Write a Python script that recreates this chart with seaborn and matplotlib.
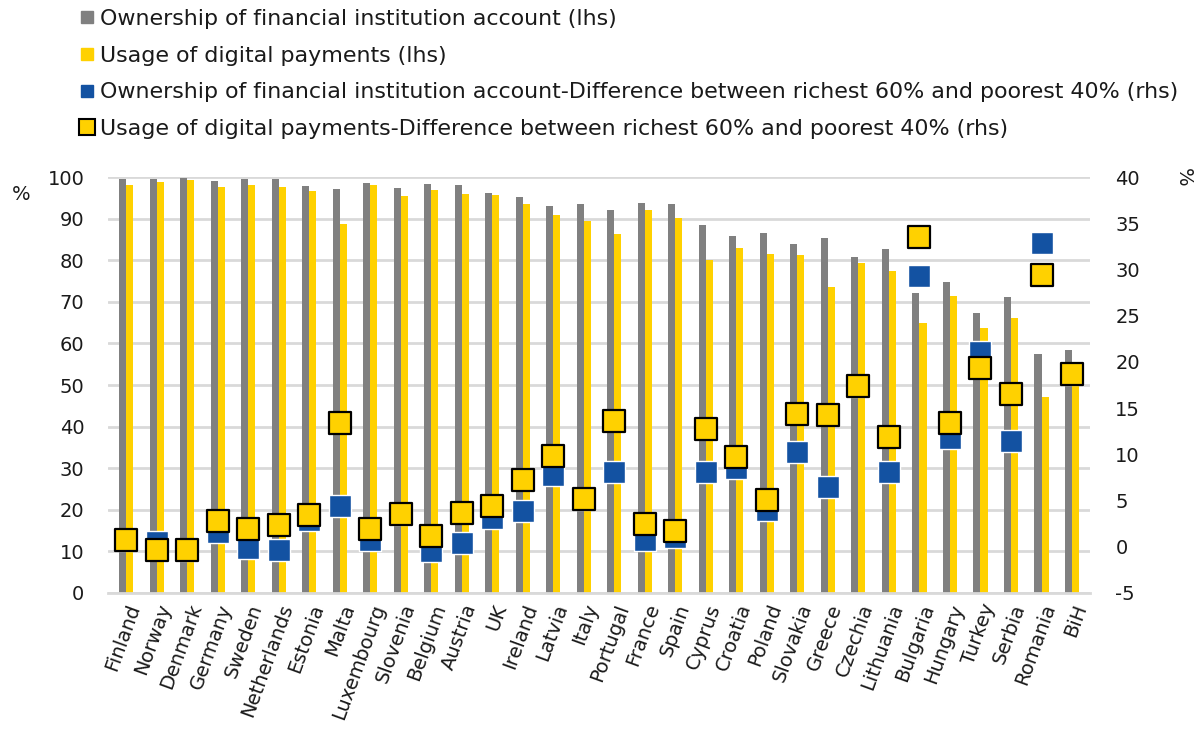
import numpy as np
import pandas as pd
import matplotlib
matplotlib.use("Agg")
import matplotlib.pyplot as plt
from matplotlib.lines import Line2D
import seaborn as sns

countries = ["Finland", "Norway", "Denmark", "Germany", "Sweden", "Netherlands", "Estonia",
             "Malta", "Luxembourg", "Slovenia", "Belgium", "Austria", "UK", "Ireland", "Latvia",
             "Italy", "Portugal", "France", "Spain", "Cyprus", "Croatia", "Poland", "Slovakia",
             "Greece", "Czechia", "Lithuania", "Bulgaria", "Hungary", "Turkey", "Serbia",
             "Romania", "BiH"]

account_own = [99.6, 99.5, 99.8, 99.0, 99.6, 99.5, 97.8, 97.2, 98.6, 97.4, 98.4, 98.0,
               96.2, 95.2, 93.0, 93.6, 92.1, 93.7, 93.6, 88.5, 85.9, 86.5, 84.0, 85.3,
               80.8, 82.6, 72.0, 74.7, 67.4, 71.1, 57.4, 58.5]
digital_pay = [98.2, 98.9, 99.2, 97.6, 98.2, 97.6, 96.6, 88.6, 98.2, 95.5, 96.9, 96.0,
               95.6, 93.4, 90.8, 89.4, 86.2, 92.0, 90.2, 80.0, 82.9, 81.6, 81.3, 73.5,
               79.4, 77.3, 64.8, 71.3, 63.6, 66.0, 47.0, 52.0]
account_gap = [0.7, 0.5, -0.3, 1.6, -0.1, -0.3, 2.9, 4.4, 0.7, 3.5, -0.5, 0.4,
               3.1, 3.9, 7.8, 5.2, 8.1, 0.7, 1.1, 8.1, 8.5, 4.0, 10.2, 6.5,
               17.4, 8.1, 29.3, 11.8, 21.1, 11.4, 32.9, 18.7]
digital_gap = [0.7, -0.4, -0.3, 2.8, 1.9, 2.4, 3.4, 13.4, 1.9, 3.5, 1.2, 3.7,
               4.4, 7.2, 9.8, 5.2, 13.6, 2.5, 1.7, 12.7, 9.7, 5.1, 14.4, 14.3,
               17.4, 11.9, 33.5, 13.4, 19.3, 16.5, 29.4, 18.7]

lab_own = "Ownership of financial institution account (lhs)"
lab_dig = "Usage of digital payments (lhs)"
lab_own_gap = "Ownership of financial institution account-Difference between richest 60% and poorest 40% (rhs)"
lab_dig_gap = "Usage of digital payments-Difference between richest 60% and poorest 40% (rhs)"

GREY = "#808080"
YELLOW = "#FFD100"
BLUE = "#1352A2"
GRID = "#D9D9D9"
TXT = "#1a1a1a"

sns.set_theme(style="white")
plt.rcParams["font.family"] = ["DejaVu Sans"]
plt.rcParams["axes.unicode_minus"] = False

bars = pd.DataFrame({
    "country": countries * 2,
    "series": [lab_own] * len(countries) + [lab_dig] * len(countries),
    "value": account_own + digital_pay,
})

fig = plt.figure(figsize=(11.95, 7.33), dpi=100)
ax = fig.add_axes([0.0904, 0.191, 0.822, 0.5675])

sns.barplot(data=bars, x="country", y="value", hue="series", order=countries,
            hue_order=[lab_own, lab_dig], palette=[GREY, YELLOW], width=0.46, gap=0,
            saturation=1, legend=False, ax=ax, zorder=2, linewidth=0)

ax.set_ylim(0, 100)
ax.set_yticks(np.arange(0, 101, 10))
ax.set_xlim(-0.6, len(countries) - 0.4)
ax.yaxis.grid(True, color=GRID, linewidth=2)
ax.set_axisbelow(True)
for s in ["top", "right", "left"]:
    ax.spines[s].set_visible(False)
ax.spines["bottom"].set_color(GRID)
ax.spines["bottom"].set_linewidth(2)
ax.set_xlabel("")
ax.set_ylabel("")
ax.tick_params(axis="y", length=0, labelsize=14, labelcolor=TXT, pad=17)
ax.tick_params(axis="x", length=0, labelsize=14, labelcolor=TXT, pad=6)
for t in ax.get_xticklabels():
    t.set_rotation(70)
    t.set_ha("right")
    t.set_rotation_mode("anchor")

ax2 = ax.twinx()
pos = np.arange(len(countries))
sns.scatterplot(x=pos, y=account_gap, marker="s", s=230, color=BLUE, edgecolor="white",
                linewidth=1.0, ax=ax2, zorder=3, legend=False)
sns.scatterplot(x=pos, y=digital_gap, marker="s", s=260, color=YELLOW, edgecolor="black",
                linewidth=1.6, ax=ax2, zorder=4, legend=False)
ax2.set_ylim(-5, 40)
ax2.set_yticks(np.arange(-5, 41, 5))
ax2.set_xlim(-0.6, len(countries) - 0.4)
for s in ["top", "right", "left", "bottom"]:
    ax2.spines[s].set_visible(False)
ax2.tick_params(axis="y", length=0, labelsize=14, labelcolor=TXT, pad=18)
ax2.set_ylabel("")

fig.text(0.01, 0.735, "%", fontsize=14, color=TXT, ha="left", va="center")
fig.text(0.99, 0.758, "%", fontsize=14, color=TXT, ha="center", va="center", rotation=-90)

handles = [
    Line2D([], [], linestyle="none", marker="s", markersize=9, markerfacecolor=GREY, markeredgecolor=GREY),
    Line2D([], [], linestyle="none", marker="s", markersize=9, markerfacecolor=YELLOW, markeredgecolor=YELLOW),
    Line2D([], [], linestyle="none", marker="s", markersize=9, markerfacecolor=BLUE, markeredgecolor=BLUE),
    Line2D([], [], linestyle="none", marker="s", markersize=11, markerfacecolor=YELLOW, markeredgecolor="black", markeredgewidth=1.5),
]
fig.legend(handles, [lab_own, lab_dig, lab_own_gap, lab_dig_gap], loc="upper left",
           bbox_to_anchor=(0.06, 1.0), frameon=False, fontsize=15.9, handlelength=0.6,
           handletextpad=0.3, labelspacing=0.76, borderaxespad=0, labelcolor=TXT)

fig.savefig("out.png", dpi=100)
